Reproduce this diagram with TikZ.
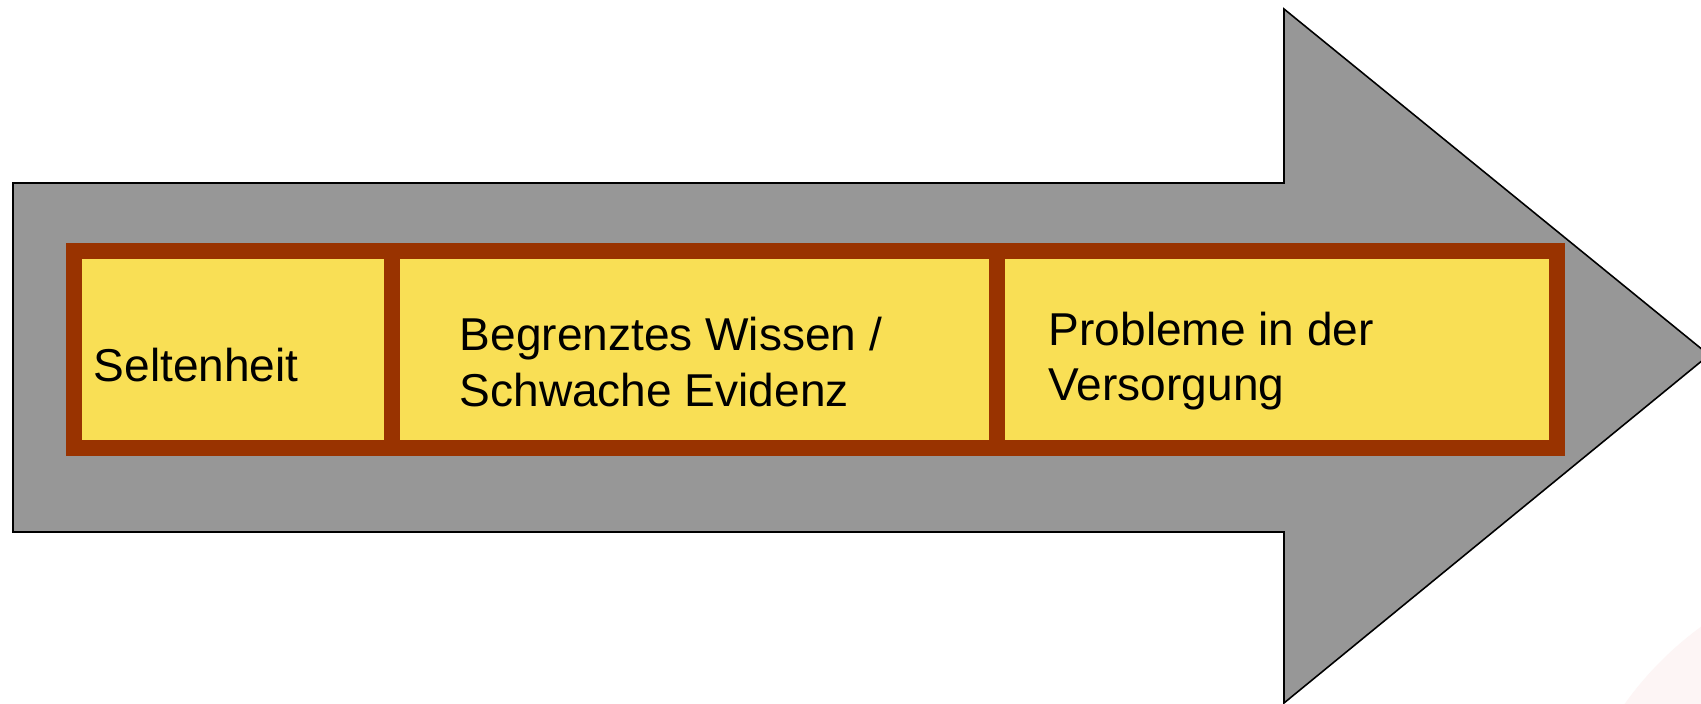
\documentclass[tikz,border=0pt]{standalone}
\usepackage{fontspec}
\setmainfont{Liberation Sans}
\definecolor{arrowgray}{HTML}{979797}
\definecolor{boxbrown}{HTML}{993300}
\definecolor{boxyellow}{HTML}{F9DF55}
\definecolor{cornerpink}{HTML}{FDF5F5}
\begin{document}
\begin{tikzpicture}[x=0.01cm,y=-0.01cm,
  stagebox/.style={rectangle,draw=boxbrown,fill=boxyellow,line width=0.16cm,
    inner sep=0pt,minimum height=1.967cm},
  stagetext/.style={anchor=base west,inner sep=0pt,align=left,
    font=\fontsize{13.1}{15.9}\selectfont}]
\useasboundingbox (0,0) rectangle (1701,704);
\fill[white] (0,0) rectangle (1701,704);
% faint corner shading
\begin{scope}
  \clip (0,0) rectangle (1701,704);
  \fill[cornerpink] (1900,900) circle[radius=338];
\end{scope}
% big process arrow
\draw[fill=arrowgray,line width=0.45pt,line join=miter]
  (13,183) -- (1284,183) -- (1284,9) -- (1709,355) -- (1284,703)
  -- (1284,532) -- (13,532) -- cycle;
% the three stages
\node[stagebox,minimum width=3.177cm] (box1) at (233.2,349.7) {};
\node[stagebox,minimum width=6.05cm] (box2) at (694.5,349.7) {};
\node[stagebox,minimum width=5.60cm] (box3) at (1277,349.7) {};
% labels (base anchor sits on the last line)
\node[stagetext] (t1) at (93,382) {Seltenheit};
\node[stagetext] (t2) at (459,406.5) {Begrenztes Wissen /\\Schwache Evidenz};
\node[stagetext] (t3) at (1048,401) {Probleme in der\\Versorgung};
\end{tikzpicture}
\end{document}
